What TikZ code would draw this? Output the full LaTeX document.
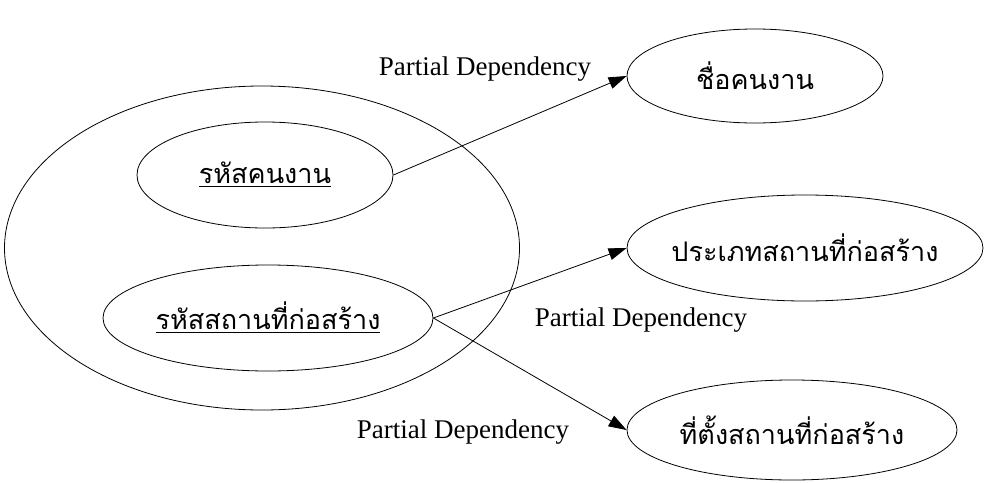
\documentclass[tikz,border=0pt]{standalone}
\usepackage{fontspec}
\setmainfont{Liberation Serif}
\newfontfamily\thaifont[Script=Thai]{Loma}
\usetikzlibrary{shapes.geometric,arrows.meta}
\begin{document}
\begin{tikzpicture}[x=0.5pt,y=-0.5pt,
  attr/.style={draw,ellipse,inner sep=-45pt,font=\thaifont\fontsize{13.5}{16}\selectfont},
  dep/.style={-{Triangle[length=9pt,width=6pt]},line width=0.4pt},
  lbl/.style={font=\fontsize{13.5}{16}\selectfont,inner sep=0pt}]
\useasboundingbox (0,0) rectangle (985,482);
% composite key group
\node[draw,ellipse,minimum width=257.5pt,minimum height=162pt] (key) at (262,248) {};
\node[attr,minimum width=128pt,minimum height=53pt] (empid) at (265,175) {\underline{รหัสคนงาน}};
\node[attr,minimum width=165pt,minimum height=53pt] (siteid) at (268,318) {\underline{รหัสสถานที่ก่อสร้าง}};
% dependent attributes
\node[attr,minimum width=128pt,minimum height=47pt] (empname) at (755,76) {ชื่อคนงาน};
\node[attr,minimum width=178pt,minimum height=53pt] (sitetype) at (805,248) {ประเภทสถานที่ก่อสร้าง};
\node[attr,minimum width=165pt,minimum height=50pt] (siteloc) at (792,430) {ที่ตั้งสถานที่ก่อสร้าง};
% partial dependencies
\draw[dep] (empid.east) -- (empname.west);
\draw[dep] (siteid.east) -- (sitetype.west);
\draw[dep] (siteid.east) -- (siteloc.west);
\node[lbl] (l1) at (485,69) {Partial Dependency};
\node[lbl] (l2) at (641,320) {Partial Dependency};
\node[lbl] (l3) at (463,432) {Partial Dependency};
\end{tikzpicture}
\end{document}
